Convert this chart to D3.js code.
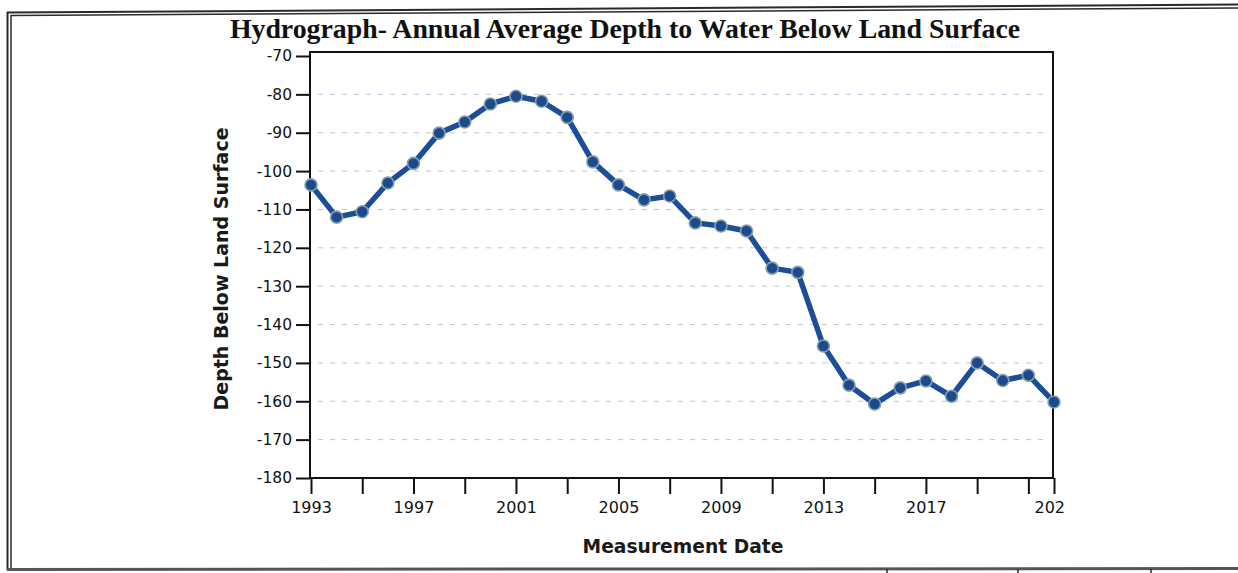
<!DOCTYPE html>
<html>
<head>
<meta charset="utf-8">
<script src="https://cdn.jsdelivr.net/npm/d3@7"></script>
<style>
  html, body { margin: 0; padding: 0; background: #fff; }
  svg { display: block; }
</style>
</head>
<body>
<svg id="chart" width="1238" height="573"></svg>
<script>
// ---- data ----
const years = [1993,1994,1995,1996,1997,1998,1999,2000,2001,2002,2003,2004,2005,2006,2007,
               2008,2009,2010,2011,2012,2013,2014,2015,2016,2017,2018,2019,2020,2021,2022];
const depths = [-103.6,-112.0,-110.6,-103.1,-98.0,-90.1,-87.2,-82.5,-80.5,-81.8,-86.0,-97.6,-103.6,-107.5,-106.5,
                -113.5,-114.3,-115.6,-125.3,-126.4,-145.6,-155.8,-160.7,-156.5,-154.7,-158.7,-150.0,-154.6,-153.2,-160.2];
const xTickValues = [1993,1995,1997,1999,2001,2003,2005,2007,2009,2011,2013,2015,2017,2019,2021,2022];
const xTickLabels = {1993:"1993",1997:"1997",2001:"2001",2005:"2005",2009:"2009",2013:"2013",2017:"2017",2022:"202"};
const yTickValues = [-70,-80,-90,-100,-110,-120,-130,-140,-150,-160,-170,-180];
const gridValues = [-80,-90,-100,-110,-120,-130,-140,-150,-160,-170];
const titleText = "Hydrograph- Annual Average Depth to Water Below Land Surface";
const xTitle = "Measurement Date";
const yTitle = "Depth Below Land Surface";

// ---- layout ----
const svg = d3.select("#chart");
const plotL = 310, plotR = 1053, plotT = 52, plotB = 478;
const x = d3.scaleLinear().domain([1993, 2022]).range([311, 1054]);
const y = d3.scaleLinear().domain([-180, -70]).range([478, 56]);

// outer page frame (scanned report border)
const frame = svg.append("g").attr("stroke", "#2a2a2a").attr("fill", "none");
frame.append("line").attr("x1", 7.5).attr("y1", 12).attr("x2", 7.5).attr("y2", 570).attr("stroke-width", 2);
frame.append("line").attr("x1", 11).attr("y1", 15).attr("x2", 11).attr("y2", 568).attr("stroke-width", 1.5);
frame.append("line").attr("x1", 7).attr("y1", 12.5).attr("x2", 1238).attr("y2", 4.5).attr("stroke-width", 2);
frame.append("line").attr("x1", 11).attr("y1", 15.5).attr("x2", 1238).attr("y2", 8).attr("stroke-width", 1.5);
frame.append("line").attr("x1", 7).attr("y1", 569.5).attr("x2", 1238).attr("y2", 568.5).attr("stroke-width", 3).attr("stroke", "#555");
[887, 1018, 1151].forEach(v => {
  frame.append("line").attr("x1", v).attr("y1", 569).attr("x2", v).attr("y2", 573).attr("stroke-width", 1.5);
});

// gridlines
svg.append("g").selectAll("line").data(gridValues).join("line")
  .attr("x1", plotL + 8).attr("x2", plotR - 8)
  .attr("y1", d => y(d)).attr("y2", d => y(d))
  .attr("stroke", "#b9c3d6").attr("stroke-width", 1).attr("stroke-dasharray", "5,7");

// plot box
svg.append("rect").attr("x", plotL).attr("y", plotT).attr("width", plotR - plotL).attr("height", plotB - plotT)
  .attr("fill", "none").attr("stroke", "#111").attr("stroke-width", 2);

// y axis
const yAxis = d3.axisLeft(y).tickValues(yTickValues).tickSize(14).tickPadding(4).tickFormat(d => String(d));
const gy = svg.append("g").attr("transform", `translate(${plotL},0)`).call(yAxis);
gy.select(".domain").remove();
gy.selectAll(".tick line").attr("stroke", "#111").attr("stroke-width", 2);
gy.selectAll(".tick text").attr("font-family", "DejaVu Sans").attr("font-size", 15.5).attr("fill", "#111");

// x axis
const xAxis = d3.axisBottom(x).tickValues(xTickValues).tickSize(16).tickPadding(8)
  .tickFormat(d => xTickLabels[d] || "");
const gx = svg.append("g").attr("transform", `translate(0,${plotB})`).call(xAxis);
gx.select(".domain").remove();
gx.selectAll(".tick line").attr("stroke", "#111").attr("stroke-width", 2);
gx.selectAll(".tick text").attr("font-family", "DejaVu Sans").attr("font-size", 16).attr("fill", "#111")
  .filter(d => d === 2022).attr("text-anchor", "start").attr("dx", -20);

// line
const line = d3.line().x((d, i) => x(years[i])).y(d => y(d));
svg.append("path").datum(depths).attr("d", line)
  .attr("fill", "none").attr("stroke", "#1b4d98").attr("stroke-width", 5.5)
  .attr("stroke-linejoin", "round").attr("stroke-linecap", "round");

// markers
svg.append("g").selectAll("circle").data(depths).join("circle")
  .attr("cx", (d, i) => x(years[i])).attr("cy", d => y(d)).attr("r", 6)
  .attr("fill", "#1c4a8c").attr("stroke", "#86a0ad").attr("stroke-width", 1.6);

// titles
svg.append("text").attr("x", 625).attr("y", 38).attr("text-anchor", "middle")
  .attr("font-family", "Liberation Serif").attr("font-weight", "bold").attr("font-size", 27.8)
  .attr("fill", "#111").text(titleText);
svg.append("text").attr("x", 683).attr("y", 553).attr("text-anchor", "middle")
  .attr("font-family", "DejaVu Sans").attr("font-weight", "bold").attr("font-size", 18.7)
  .attr("fill", "#1a1a1a").text(xTitle);
svg.append("text").attr("transform", "translate(221,269) rotate(-90)").attr("text-anchor", "middle")
  .attr("dy", "0.35em")
  .attr("font-family", "DejaVu Sans").attr("font-weight", "bold").attr("font-size", 19)
  .attr("fill", "#1a1a1a").text(yTitle);
</script>
</body>
</html>
